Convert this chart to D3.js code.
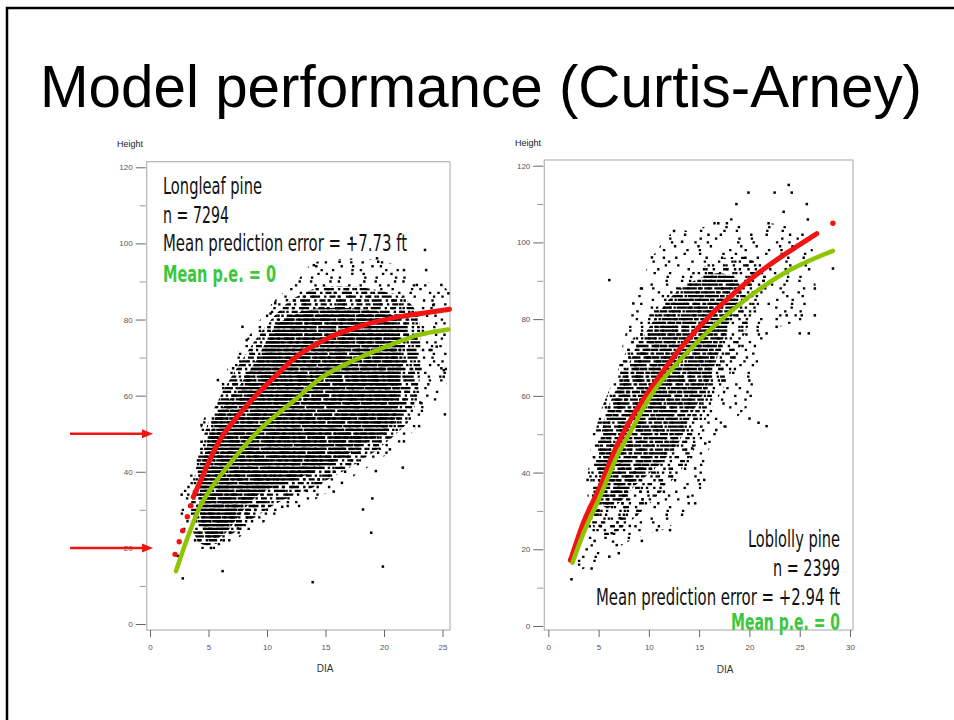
<!DOCTYPE html>
<html>
<head>
<meta charset="utf-8">
<script src="https://cdn.jsdelivr.net/npm/d3@7"></script>
<style>
  body { margin: 0; background: #fff; }
  svg { display: block; }
</style>
</head>
<body>
<svg id="slide" width="954" height="720"></svg>
<script>
// ---- data ----
const title = "Model performance (Curtis-Arney)";
const yTicks = [0, 20, 40, 60, 80, 100, 120];
const yMinorTicks = [10, 30, 50, 70, 90, 110];
const longleafXTicks = [0, 5, 10, 15, 20, 25];
const loblollyXTicks = [0, 5, 10, 15, 20, 25, 30];
const arrowHeights = [50, 20];

// Longleaf: outlines of the scatter cloud (sparse edge, middle, dense core) as (DIA, Height)
const longleafCloud = [[2.5,30],[2.7,34.5],[3.5,40],[4.4,52.5],[5.5,59],[6.7,67.5],[8.3,75],[10.5,84.5],[12.5,90],[14,95],[17,96],[19.7,95.5],[21.7,93.5],[23.5,90],[25.5,87],[25.5,65],[24,56],[22,49],[20,44],[18,40],[16,36],[14,32.5],[12,29.5],[10,27],[8,23.5],[6,20],[4.5,19.5],[3.5,22],[2.7,26]];
const longleafMid = [[3.5,26],[3.7,36],[4.2,45],[5.1,54],[6.4,62],[8,70],[9.8,78],[12,85],[14.5,88.5],[18,88.5],[21.5,86],[23,80],[23,62],[22,53],[19.5,46],[17,41],[14,36],[11,32],[8.5,27],[6,21.5],[4.4,21]];
const longleafCore = [[5.1,22],[4.5,25.5],[4.27,30],[4.27,35.2],[4.56,43],[5.56,53.6],[7.4,61.5],[9.1,69.4],[10.8,78.5],[13.4,82.5],[17,83],[20.8,81],[21.4,73.8],[21.4,63.2],[20.8,52.7],[17.9,46.6],[16.5,44],[13.7,39.6],[11.4,37],[9.4,34.3],[8,30],[6.5,24]];
const longleafPoints = [[25.2,55.1],[23,52],[21.6,41.1],[18.2,30.1],[19,33],[18.9,24],[19.9,15.1],[13.9,11],[6.2,13.9],[2.8,12],[2.37,17.9],[5.2,20],[3.85,22],[2.7,34],[4.1,43],[4.4,47.9],[23.1,58.2],[21.7,48],[20.5,45.9],[19.3,40.2],[16.4,37.1],[15.7,34.8],[14.4,38],[13.4,35],[11.3,30.8],[9,30],[8.3,28],[7.5,25.1],[6.3,22],[23.5,98.3],[17.2,101.3],[25.5,86.9],[24.9,89.1],[7.9,78.1],[23.6,93],[19.4,96.1],[16.2,95.2],[14,94.3],[25.1,66.7],[25.1,65],[23.9,72],[24.5,72.9],[5.8,64.1],[7.1,67.2],[10.3,81.6],[24.2,83.8],[24.9,67.2],[4.4,52.3],[8.26,74.6],[10.7,84.3],[11.7,85.1],[19.5,95.2],[21.7,93],[22.8,89.1]];
const longleafFitDots = [[2.14,18.3],[2.5,21.6],[2.79,24.5],[3.19,28.2],[3.47,31.1]];
const longleafFit = [[3.7,33.4],[4.3,37.5],[5.1,43.1],[6.0,48.5],[7.2,53.5],[9.1,60.2],[10.8,65.4],[12.5,70.2],[15.2,75.1],[18.0,78.3],[20.9,80.5],[23.6,81.8],[25.6,82.7]];
const longleafZero = [[2.22,13.9],[3.13,22],[4.27,30.8],[5.13,35.2],[7.0,42.8],[9.2,50.5],[12.4,58.9],[14.6,64.6],[17.5,69.4],[20.5,73.3],[22.9,75.9],[25.5,77.4]];
const longleafLabels = ["Longleaf pine", "n = 7294", "Mean prediction error = +7.73 ft", "Mean p.e.  = 0"];

// Loblolly
const loblollyCloud = [[2.5,17],[3.9,24],[3.9,38],[4.5,52],[5.5,58],[6.8,64],[7.3,72],[8.5,84],[10.3,96],[12.5,103],[14.5,103],[17,106],[19,108],[20,104],[22,105],[24,104],[25.8,102],[26.5,95],[26.5,85],[25.5,80],[23,78],[21.5,74],[20.5,60],[19,55],[17.5,52],[15.8,45],[15.4,38],[14.6,32],[12.1,26],[10,24],[8,22],[6,19],[4.3,16],[2.5,14]];
const loblollyMid = [[4.2,30],[4.3,45],[5.2,56],[6.5,64],[8,73],[10,81],[12.5,88],[15,93],[17.5,96],[20,96],[21.5,91],[21,84],[19.5,76],[18.5,68],[17,60],[15.5,53],[14.5,46],[13,40],[10.5,33],[8.5,28],[6.5,24],[4.8,24]];
const loblollyCore = [[5.0,36],[5.1,47],[5.8,56],[7,63],[8.5,71],[10.3,79],[12.3,86],[14.5,90],[17,92],[19,90],[18.8,84],[17.8,78],[16.8,70],[15.7,62],[14.2,55],[13,48],[11,42],[8.8,37],[7,32],[5.6,31]];
const loblollyPoints = [[23.9,115],[24.2,113],[19.9,113],[22.5,113],[25.7,110],[18.7,110],[23.4,108],[21.9,105],[25.8,106],[28.3,93.2],[26.5,88],[26.5,81],[25.9,76.3],[25,76.3],[21.7,76.3],[6.06,90.2],[9.3,88],[10.3,96.1],[12.5,103],[13.3,100.2],[16.9,105],[8.45,84.1],[23.7,81],[25.2,81],[22.7,78],[2.3,12.2],[4.3,15],[6.06,18.1],[7,19],[6.8,21.1],[4.6,22.2],[9.3,22.2],[10.8,25],[12.1,25],[5.1,26.1],[6.3,24.2],[8.1,26.1],[7.1,28.1],[14.6,32],[13.9,33.7],[15.5,38.1],[14.6,41.1],[21.7,52.1],[20.9,53],[20,54.1],[17.6,52],[16.7,51.1],[15.6,47.6],[14.3,46.3],[3.9,38.1],[4.97,30.2]];
const loblollyFitDots = [[2.22,17.2],[28.3,105]];
const loblollyFit = [[2.22,17.2],[3.5,27],[5.14,36.3],[6.47,45],[7.8,52],[9.5,59.3],[11.8,67.8],[13.4,73.2],[15.1,78.2],[16.7,82.5],[18.4,86.6],[20,90.2],[21.7,93.6],[23.4,96.7],[25,99.4],[26.7,102.3]];
const loblollyZero = [[2.4,16.5],[3.5,24.2],[5.14,33.7],[6.8,44.1],[8.45,52],[10.05,59.5],[13.4,70.2],[16.7,78.7],[20,85.9],[23.4,91.9],[28.3,97.8]];
const loblollyLabels = ["Loblolly pine", "n = 2399", "Mean prediction error = +2.94 ft", "Mean p.e. = 0"];

// ---- drawing ----
const RED = "#f21313";
const LIME = "#8fc400";
const TEXT_GREEN = "#3cc83c";
const SANS = "'Liberation Sans', Arial, sans-serif";
const NARROW = "'DejaVu Sans Condensed', 'Liberation Sans Narrow', sans-serif";

const svg = d3.select("#slide");

// slide frame
svg.append("rect")
    .attr("x", 7).attr("y", 8)
    .attr("width", 1000).attr("height", 800)
    .attr("fill", "none")
    .attr("stroke", "#000")
    .attr("stroke-width", 2.5);

svg.append("text")
    .attr("x", 40).attr("y", 107)
    .attr("font-family", SANS)
    .attr("font-size", 60)
    .attr("textLength", 882)
    .attr("lengthAdjust", "spacingAndGlyphs")
    .text(title);

const defs = svg.append("defs");

function drawPanel(p) {
    const x = d3.scaleLinear().domain(p.xDomain).range(p.xRange);
    const y = d3.scaleLinear().domain([0, 120]).range(p.yRange);
    const g = svg.append("g");

    // frame
    g.append("rect")
        .attr("x", p.frame[0]).attr("y", p.frame[1])
        .attr("width", p.frame[2] - p.frame[0])
        .attr("height", p.frame[3] - p.frame[1])
        .attr("fill", "#fff")
        .attr("stroke", "#b4b4b4")
        .attr("stroke-width", 1.2);

    // scatter cloud: rows of dots at each whole foot, clipped to the outlines
    const outline = d3.line().x(d => x(d[0])).y(d => y(d[1])).curve(d3.curveCardinalClosed.tension(0.3));
    p.layers.forEach(([kind, poly, dash], li) => {
        const id = p.id + "-" + kind;
        defs.append("clipPath").attr("id", id)
            .append("path").attr("d", outline(poly));
        g.append("g")
            .attr("clip-path", `url(#${id})`)
            .selectAll("line")
            .data(d3.range(0, 121))
            .join("line")
            .attr("x1", p.frame[0]).attr("x2", p.frame[2])
            .attr("y1", d => y(d)).attr("y2", d => y(d))
            .attr("stroke", "#000")
            .attr("stroke-width", 2.3)
            .attr("stroke-dasharray", dash)
            .attr("stroke-dashoffset", d => (d * d * 7 + d * 13 + li * 29) % 61);
    });

    g.append("g").selectAll("rect")
        .data(p.points)
        .join("rect")
        .attr("x", d => x(d[0]) - 1.2)
        .attr("y", d => y(d[1]) - 1.2)
        .attr("width", 2.5).attr("height", 2.5)
        .attr("fill", "#000");

    // curves
    const curve = d3.line().x(d => x(d[0])).y(d => y(d[1])).curve(d3.curveMonotoneX);
    g.append("path")
        .attr("d", curve(p.fit))
        .attr("fill", "none")
        .attr("stroke", RED)
        .attr("stroke-width", 5)
        .attr("stroke-linecap", "round");
    g.append("g").selectAll("circle")
        .data(p.fitDots)
        .join("circle")
        .attr("cx", d => x(d[0])).attr("cy", d => y(d[1]))
        .attr("r", 2.7)
        .attr("fill", RED);
    g.append("path")
        .attr("d", curve(p.zero))
        .attr("fill", "none")
        .attr("stroke", LIME)
        .attr("stroke-width", 4.5)
        .attr("stroke-linecap", "round");

    // axes
    const yAxis = g.append("g")
        .attr("transform", `translate(${p.frame[0] - 1},0)`)
        .call(d3.axisLeft(y).tickValues(yTicks).tickSize(10).tickPadding(3));
    const yMinor = g.append("g")
        .attr("transform", `translate(${p.frame[0] - 1},0)`)
        .call(d3.axisLeft(y).tickValues(yMinorTicks).tickSize(6).tickFormat(""));
    const xAxis = g.append("g")
        .attr("transform", `translate(0,${p.frame[3]})`)
        .call(d3.axisBottom(x).tickValues(p.xTicks).tickSize(7).tickPadding(7));
    [yAxis, yMinor, xAxis].forEach(a => {
        a.select(".domain").remove();
        a.selectAll("line").attr("stroke", "#666");
        a.selectAll("text")
            .attr("fill", "#555")
            .attr("font-size", 8)
            .attr("font-family", SANS);
    });
    yMinor.selectAll("line").attr("stroke", "#999");

    g.append("text")
        .attr("x", p.heightLabel[0]).attr("y", p.heightLabel[1])
        .attr("font-family", SANS)
        .attr("font-size", 9)
        .attr("fill", "#222")
        .text("Height");
    g.append("text")
        .attr("x", p.diaLabel[0]).attr("y", p.diaLabel[1])
        .attr("text-anchor", "middle")
        .attr("font-family", SANS)
        .attr("font-size", 10)
        .attr("fill", "#333")
        .text("DIA");

    // annotation block
    g.append("g").selectAll("text")
        .data(p.labels)
        .join("text")
        .attr("x", (d, i) => p.labelRight ? p.labelX - p.labelWidths[i] : p.labelX)
        .attr("y", (d, i) => p.labelY[i])
        .attr("font-family", NARROW)
        .attr("font-size", 23)
        .attr("font-weight", (d, i) => i === 3 ? "bold" : "normal")
        .attr("fill", (d, i) => i === 3 ? TEXT_GREEN : "#111")
        .attr("textLength", (d, i) => p.labelWidths[i])
        .attr("lengthAdjust", "spacingAndGlyphs")
        .text(d => d);

    return { x, y };
}

const left = drawPanel({
    id: "longleaf",
    xDomain: [0, 25], xRange: [150, 442.5], yRange: [624, 167.3],
    frame: [146.7, 161.7, 450, 630],
    xTicks: longleafXTicks,
    layers: [
        ["cloud", longleafCloud, "2.4 9 2.4 17 2.4 6 2.4 23"],
        ["mid", longleafMid, "6 3 2.4 5 10 4 2.4 3"],
        ["core", longleafCore, "40 1.5 18 2 25 1"]
    ],
    points: longleafPoints,
    fit: longleafFit, fitDots: longleafFitDots, zero: longleafZero,
    heightLabel: [117, 147], diaLabel: [325, 672],
    labels: longleafLabels, labelX: 163, labelRight: false,
    labelY: [194, 222.7, 250.7, 281.7], labelWidths: [99, 66, 244, 113]
});

drawPanel({
    id: "loblolly",
    xDomain: [0, 30], xRange: [548.3, 850], yRange: [626, 165.7],
    frame: [544.3, 160, 853, 630],
    xTicks: loblollyXTicks,
    layers: [
        ["cloud", loblollyCloud, "2.4 13 2.4 21 2.4 10 2.4 28"],
        ["mid", loblollyMid, "2.4 5 2.4 8 4.8 6 2.4 11"],
        ["core", loblollyCore, "8 2 4 3 12 2 2.4 3"]
    ],
    points: loblollyPoints,
    fit: loblollyFit, fitDots: loblollyFitDots, zero: loblollyZero,
    heightLabel: [515, 146], diaLabel: [725, 673],
    labels: loblollyLabels, labelX: 840, labelRight: true,
    labelY: [546.7, 575.7, 605, 630], labelWidths: [92, 67, 244, 109]
});

// red arrows pointing at the left height axis
const arrows = svg.append("g");
arrowHeights.forEach(h => {
    const ay = left.y(h);
    arrows.append("line")
        .attr("x1", 70).attr("x2", 143)
        .attr("y1", ay).attr("y2", ay)
        .attr("stroke", RED).attr("stroke-width", 2.5);
    arrows.append("path")
        .attr("d", `M${153},${ay} L${142},${ay - 4.5} L${142},${ay + 4.5} Z`)
        .attr("fill", RED);
});
</script>
</body>
</html>
